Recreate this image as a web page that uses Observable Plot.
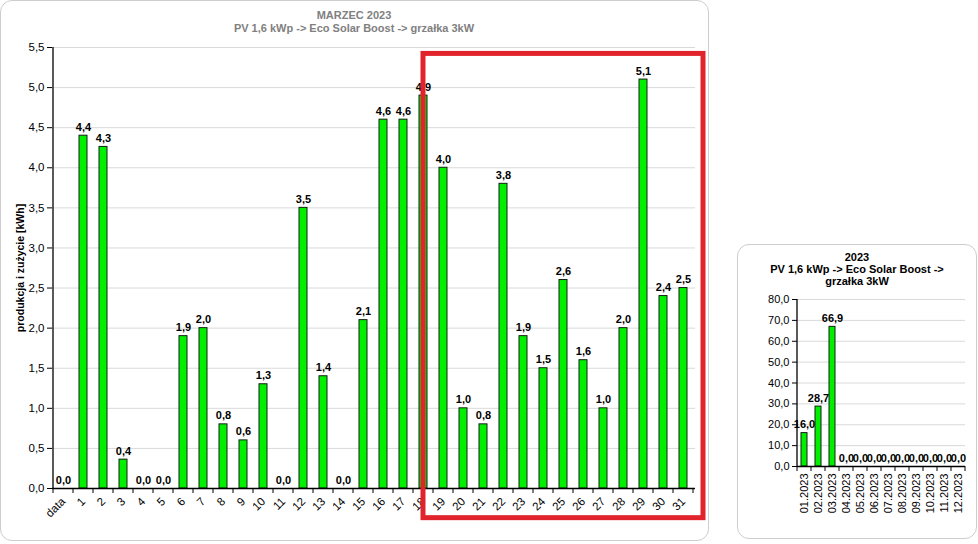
<!DOCTYPE html>
<html>
<head>
<meta charset="utf-8">
<script src="https://cdn.jsdelivr.net/npm/d3@7"></script>
<script src="https://cdn.jsdelivr.net/npm/@observablehq/plot@0.6"></script>
<style>
  html, body { margin: 0; padding: 0; background: #fff; }
  body { font-family: "Liberation Sans", Arial, sans-serif; }
  #page { position: relative; width: 978px; height: 544px; overflow: hidden; background: #fff; }
  .panel { position: absolute; box-sizing: border-box; border: 1px solid #cdcdcd; border-radius: 12px; background: #fff; }
  #mainPanel { left: 0; top: 0; width: 709px; height: 541px; }
  #smallPanel { left: 737px; top: 244px; width: 240px; height: 295px; }
  .title { position: absolute; text-align: center; font-weight: bold; font-size: 11px; line-height: 13px; }
  #mainTitle { left: 0; width: 708px; top: 9px; color: #808080; }
  #smallTitle { left: 737px; width: 240px; top: 251px; color: #000; line-height: 12px; }
  #ylabel { position: absolute; left: 20px; top: 268px; transform: translate(-50%, -50%) rotate(-90deg); white-space: nowrap; font-weight: bold; font-size: 10.5px; color: #000; }
  .chart { position: absolute; }
  #mainChart { left: 0; top: 36px; }
  #smallChart { left: 737px; top: 290px; }
</style>
</head>
<body>
<div id="page">
  <div class="panel" id="mainPanel"></div>
  <div class="panel" id="smallPanel"></div>
  <div class="title" id="mainTitle">MARZEC 2023<br>PV 1,6 kWp -&gt; Eco Solar Boost -&gt; grzałka 3kW</div>
  <div class="title" id="smallTitle">2023<br>PV 1,6 kWp -&gt; Eco Solar Boost -&gt;<br>grzałka 3kW</div>
  <div id="ylabel">produkcja i zużycie [kWh]</div>
  <div class="chart" id="mainChart"></div>
  <div class="chart" id="smallChart"></div>
</div>
<script>
// ---- data ----
const days = ["data","1","2","3","4","5","6","7","8","9","10","11","12","13","14","15","16","17","18","19","20","21","22","23","24","25","26","27","28","29","30","31"];
const dayValues = [0, 4.4, 4.26, 0.36, 0, 0, 1.9, 2.0, 0.8, 0.6, 1.3, 0, 3.5, 1.4, 0, 2.1, 4.6, 4.6, 4.9, 4.0, 1.0, 0.8, 3.8, 1.9, 1.5, 2.6, 1.6, 1.0, 2.0, 5.1, 2.4, 2.5];
const dayTicks = [0, 0.5, 1.0, 1.5, 2.0, 2.5, 3.0, 3.5, 4.0, 4.5, 5.0, 5.5];

const months = ["01.2023","02.2023","03.2023","04.2023","05.2023","06.2023","07.2023","08.2023","09.2023","10.2023","11.2023","12.2023"];
const monthValues = [16.0, 28.7, 66.9, 0, 0, 0, 0, 0, 0, 0, 0, 0];
const monthTicks = [0, 10, 20, 30, 40, 50, 60, 70, 80];

// highlighted range (annotation)
const highlight = { from: "18", to: "31", top: 5.42, bottom: -0.37 };

const fmt = d => d.toFixed(1).replace(".", ",");
const barFill = "#00f000";
const barStroke = "#102010";
const gridColor = "#d9d9d9";

function decorate(plot, cats, yMax) {
  const xs = plot.scale("x"), ys = plot.scale("y");
  const svg = d3.select(plot);
  const gap = (xs.step - xs.bandwidth) / 2;
  const g = svg.append("g");
  // category boundary ticks
  const bounds = cats.map(c => xs.apply(c) - gap);
  bounds.push(xs.apply(cats[cats.length - 1]) + xs.bandwidth + gap);
  const y0 = ys.apply(0);
  g.selectAll("line.b").data(bounds).join("line")
    .attr("x1", d => d).attr("x2", d => d)
    .attr("y1", y0).attr("y2", y0 + 5)
    .attr("stroke", "#000").attr("stroke-width", 1);
  // y axis line
  g.append("line")
    .attr("x1", bounds[0]).attr("x2", bounds[0])
    .attr("y1", ys.apply(yMax)).attr("y2", y0 + 0.5)
    .attr("stroke", "#000").attr("stroke-width", 1.3);
  return { xs, ys, svg };
}

// ---- main chart ----
const mainData = days.map((d, i) => ({ day: d, value: dayValues[i] }));
const mainPlot = Plot.plot({
  width: 708,
  height: 508,
  marginTop: 11,
  marginBottom: 56,
  marginLeft: 52,
  marginRight: 13,
  style: { fontFamily: "Liberation Sans, Arial, sans-serif", fontSize: "11.5px", color: "#000", background: "transparent" },
  x: { domain: days, paddingInner: 0.58, paddingOuter: 0.29, label: null },
  y: { domain: [0, 5.5], label: null },
  marks: [
    Plot.ruleY(dayTicks.filter(t => t > 0), { stroke: gridColor, strokeWidth: 1 }),
    Plot.axisY(dayTicks, { tickFormat: fmt, tickSize: 5, tickPadding: 3, label: null }),
    Plot.axisX({ tickSize: 0, tickPadding: 11, tickRotate: -45, label: null }),
    Plot.barY(mainData, { x: "day", y: "value", fill: barFill, stroke: barStroke, strokeWidth: 1 }),
    Plot.ruleY([0], { stroke: "#000", strokeWidth: 1.3 }),
    Plot.text(mainData, { x: "day", y: "value", text: d => fmt(d.value), dy: -5, lineAnchor: "bottom", fontWeight: "bold", fontSize: 11 })
  ]
});
document.getElementById("mainChart").append(mainPlot);
{
  const { xs, ys, svg } = decorate(mainPlot, days, 5.5);
  const x1 = xs.apply(highlight.from) + xs.bandwidth / 2;
  const x2 = xs.apply(highlight.to) + xs.bandwidth / 2 + xs.step;
  const y1 = ys.apply(highlight.top), y2 = ys.apply(highlight.bottom);
  svg.append("rect")
    .attr("x", x1).attr("y", y1).attr("width", x2 - x1).attr("height", y2 - y1)
    .attr("fill", "none").attr("stroke", "#e1232c").attr("stroke-width", 5);
}

// ---- small chart ----
const smallData = months.map((m, i) => ({ month: m, value: monthValues[i] }));
const smallPlot = Plot.plot({
  width: 239,
  height: 248,
  marginTop: 9,
  marginBottom: 72,
  marginLeft: 60,
  marginRight: 11,
  style: { fontFamily: "Liberation Sans, Arial, sans-serif", fontSize: "11px", color: "#000", background: "transparent" },
  x: { domain: months, paddingInner: 0.57, paddingOuter: 0.285, label: null },
  y: { domain: [0, 80], label: null },
  marks: [
    Plot.ruleY(monthTicks.filter(t => t > 0), { stroke: gridColor, strokeWidth: 1 }),
    Plot.axisY(monthTicks, { tickFormat: fmt, tickSize: 5, tickPadding: 3, label: null }),
    Plot.axisX({ tickSize: 0, tickPadding: 7, tickRotate: -90, label: null }),
    Plot.barY(smallData, { x: "month", y: "value", fill: barFill, stroke: barStroke, strokeWidth: 1 }),
    Plot.ruleY([0], { stroke: "#000", strokeWidth: 1.3 }),
    Plot.text(smallData, { x: "month", y: "value", text: d => fmt(d.value), dy: -5, lineAnchor: "bottom", fontWeight: "bold", fontSize: 11 })
  ]
});
document.getElementById("smallChart").append(smallPlot);
decorate(smallPlot, months, 80);
</script>
</body>
</html>
